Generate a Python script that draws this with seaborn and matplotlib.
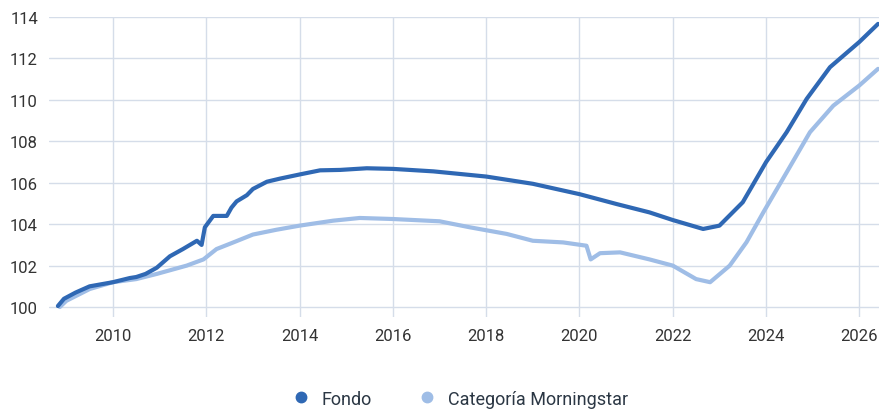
import pandas as pd
import numpy as np
import seaborn as sns
import matplotlib.pyplot as plt
from matplotlib.lines import Line2D

# valores (año decimal, índice base 100)
fondo_x = [2008.82, 2008.95, 2009.2, 2009.5, 2010.0, 2010.36, 2010.5, 2010.7, 2010.94,
           2011.22, 2011.5, 2011.8, 2011.9, 2011.97, 2012.15, 2012.44, 2012.54, 2012.65,
           2012.87, 2013.0, 2013.3, 2013.58, 2014.0, 2014.44, 2014.87, 2015.44, 2016.0,
           2016.87, 2018.0, 2019.0, 2020.0, 2020.8, 2021.5, 2022.0, 2022.65, 2023.0,
           2023.5, 2024.0, 2024.44, 2024.87, 2025.37, 2026.0, 2026.4]
fondo_y = [100.05, 100.4, 100.7, 101.0, 101.2, 101.4, 101.45, 101.6, 101.9,
           102.45, 102.8, 103.2, 103.0, 103.85, 104.4, 104.4, 104.8, 105.1,
           105.4, 105.7, 106.05, 106.2, 106.4, 106.6, 106.62, 106.7, 106.67,
           106.55, 106.3, 105.95, 105.45, 104.97, 104.57, 104.2, 103.77, 103.93,
           105.06, 107.0, 108.44, 110.05, 111.58, 112.8, 113.67]

cat_x = [2008.86, 2009.0, 2009.5, 2010.0, 2010.5, 2010.94, 2011.58, 2011.94, 2012.22,
         2012.58, 2013.0, 2013.5, 2014.0, 2014.72, 2015.29, 2016.0, 2017.0, 2017.65,
         2018.44, 2019.0, 2019.65, 2020.15, 2020.24, 2020.44, 2020.87, 2021.5, 2022.0,
         2022.5, 2022.8, 2023.22, 2023.58, 2023.94, 2024.44, 2024.94, 2025.44, 2026.0,
         2026.4]
cat_y = [100.0, 100.3, 100.87, 101.2, 101.35, 101.6, 102.0, 102.3, 102.8,
         103.12, 103.5, 103.73, 103.93, 104.17, 104.3, 104.25, 104.14, 103.85,
         103.53, 103.2, 103.12, 102.96, 102.3, 102.6, 102.64, 102.3, 102.0,
         101.35, 101.2, 102.0, 103.13, 104.57, 106.5, 108.44, 109.72, 110.7,
         111.5]

series = ['Fondo', 'Categoría Morningstar']
colores = {'Fondo': '#2f68b4', 'Categoría Morningstar': '#9fbde6'}
anios = list(range(2010, 2027, 2))
niveles = list(range(100, 115, 2))

df = pd.concat([
    pd.DataFrame({'x': fondo_x, 'y': fondo_y, 'serie': series[0]}),
    pd.DataFrame({'x': cat_x, 'y': cat_y, 'serie': series[1]}),
])

sns.set_style('white')
plt.rcParams['font.family'] = ['Roboto', 'DejaVu Sans']

fig = plt.figure(figsize=(8.82, 4.10), dpi=100)
ax = fig.add_axes([0.0556, 0.2244, 0.941, 0.7316])

sns.lineplot(data=df, x='x', y='y', hue='serie', hue_order=series[::-1],
             palette=colores, linewidth=3, legend=False, ax=ax, sort=False)

ax.set_xlim(2008.63, 2026.42)
ax.set_ylim(99.52, 114)
ax.set_xticks(anios)
ax.set_xticklabels([str(a) for a in anios])
ax.set_yticks(niveles)
ax.set_xlabel('')
ax.set_ylabel('')
ax.grid(True, color='#d5dde9', linewidth=1)
ax.set_axisbelow(True)
for s in ax.spines.values():
    s.set_visible(False)
ax.tick_params(axis='both', length=0, labelsize=12, labelcolor='#333333')
ax.tick_params(axis='y', pad=8)
ax.tick_params(axis='x', pad=8)

handles = [Line2D([], [], marker='o', linestyle='', markersize=7.5,
                  color=colores[s]) for s in series]
fig.legend(handles, series, loc='center', bbox_to_anchor=(0.5215, 0.025),
           ncol=2, frameon=False, fontsize=13, columnspacing=2.55,
           handlelength=1.0, handletextpad=0.67, labelcolor='#2b3744')

fig.savefig('out.png', dpi=100)
